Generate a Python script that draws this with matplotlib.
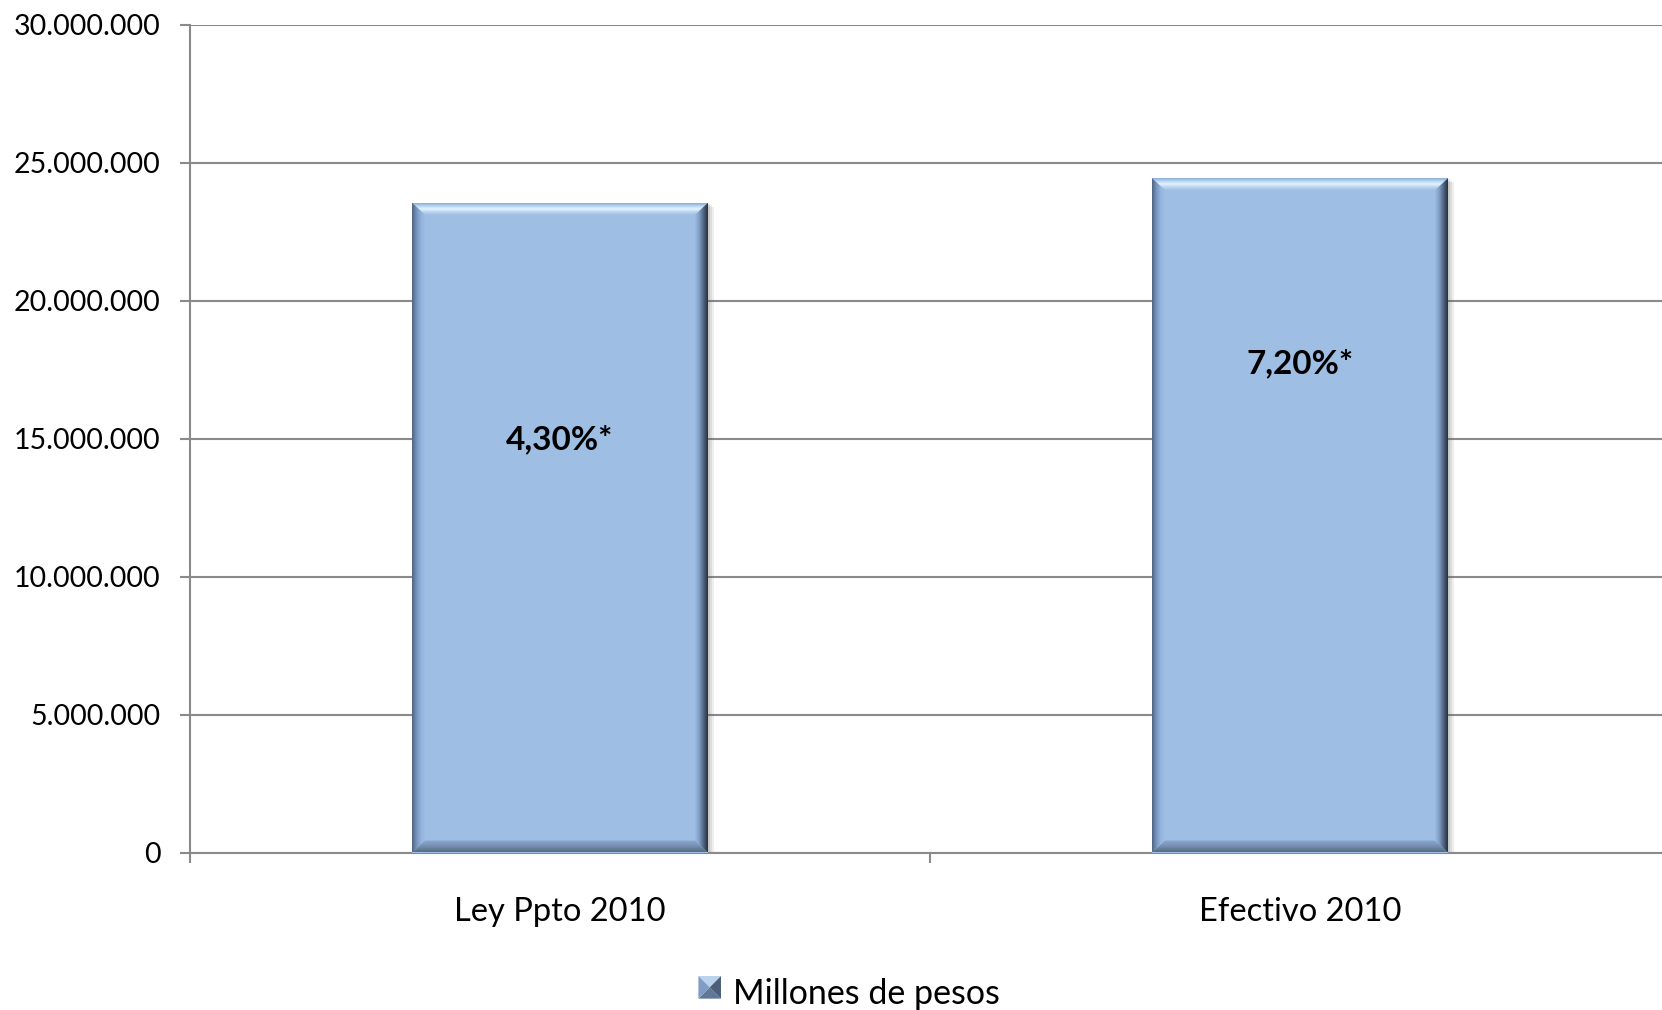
import matplotlib
matplotlib.use("Agg")
import matplotlib.pyplot as plt
import numpy as np
from matplotlib.colors import LinearSegmentedColormap
from matplotlib.patches import Polygon, Rectangle
from matplotlib.legend_handler import HandlerBase
from matplotlib.ticker import FuncFormatter, FixedLocator

categories = ["Ley Ppto 2010", "Efectivo 2010"]
values = [23540000, 24430000]
bar_labels = ["4,30%*", "7,20%*"]
label_heights = [14980000, 17730000]
series_name = "Millones de pesos"
yticks = [0, 5000000, 10000000, 15000000, 20000000, 25000000, 30000000]

FONT = "Lato"
FILL = "#9FBEE4"
GRID = "#8A8A8A"

fig = plt.figure(figsize=(16.62, 10.10), dpi=100)
ax = fig.add_axes([190 / 1662, 157.5 / 1010, 1480 / 1662, 828 / 1010])
x = np.arange(len(categories))
ax.set_xlim(-0.5, len(categories) - 0.5)
ax.set_ylim(0, 30000000)

bars = ax.bar(x, values, width=0.40, color=FILL, edgecolor="none", zorder=3)


def px_to_data(px_x, px_y):
    p0 = ax.transData.inverted().transform((0, 0))
    p1 = ax.transData.inverted().transform((px_x, px_y))
    return p1[0] - p0[0], p1[1] - p0[1]


fig.canvas.draw()
dx, dy = px_to_data(13, 12)
sx, sy = px_to_data(4, 4)


def grad_poly(poly, extent, colors, vertical, z):
    cmap = LinearSegmentedColormap.from_list("g", colors)
    n = 256
    if vertical:
        arr = np.linspace(0, 1, n).reshape(n, 1)
    else:
        arr = np.linspace(0, 1, n).reshape(1, n)
    im = ax.imshow(arr, cmap=cmap, extent=extent, aspect="auto",
                   origin="upper", interpolation="bilinear", zorder=z)
    pg = Polygon(poly, closed=True, transform=ax.transData, facecolor="none", edgecolor="none")
    ax.add_patch(pg)
    im.set_clip_path(pg)


for b in bars:
    x0, y0 = b.get_x(), b.get_y()
    x1, y1 = x0 + b.get_width(), y0 + b.get_height()
    for k, a in [(1.0, 0.10), (0.6, 0.12), (0.3, 0.15)]:
        ax.add_patch(Rectangle((x0 + sx * k * 0.5, y0 - sy * k), (x1 - x0) + sx * k, (y1 - y0),
                               facecolor="#606060", alpha=a, edgecolor="none", zorder=2))
    grad_poly([(x0, y1), (x1, y1), (x1 - dx, y1 - dy), (x0 + dx, y1 - dy)],
              [x0, x1, y1 - dy, y1],
              ["#8AAAD6", "#B8D6F2", "#E2F4FD", "#BBD6F0", FILL], True, 4)
    grad_poly([(x0, y0), (x1, y0), (x1 - dx, y0 + dy), (x0 + dx, y0 + dy)],
              [x0, x1, y0, y0 + dy],
              ["#8CA8CE", "#7690B2", "#56697F"], True, 4)
    grad_poly([(x0, y0), (x0, y1), (x0 + dx, y1 - dy), (x0 + dx, y0 + dy)],
              [x0, x0 + dx, y0, y1],
              ["#4E6380", "#7594BE", "#94B4DE", FILL], False, 4)
    grad_poly([(x1, y0), (x1, y1), (x1 - dx, y1 - dy), (x1 - dx, y0 + dy)],
              [x1 - dx, x1, y0, y1],
              [FILL, "#7F9CC4", "#4F6480", "#27303C"], False, 4)

ax.set_xlim(-0.5, len(categories) - 0.5)
ax.set_ylim(0, 30000000)

for xi, lab, h in zip(x, bar_labels, label_heights):
    ax.text(xi, h, lab, ha="center", va="center", fontsize=24, fontweight="bold",
            family=FONT, color="black", zorder=6)

ax.set_yticks(yticks)
ax.yaxis.set_major_formatter(FuncFormatter(lambda v, p: f"{int(v):,}".replace(",", ".")))
ax.yaxis.grid(True, color=GRID, linewidth=1.5, zorder=0)
ax.set_axisbelow(True)
for s in ["top", "right"]:
    ax.spines[s].set_visible(False)
for s in ["left", "bottom"]:
    ax.spines[s].set_color(GRID)
    ax.spines[s].set_linewidth(1.5)
ax.tick_params(axis="y", length=7, width=1.5, color=GRID, pad=14, labelsize=20.5)
ax.set_xticks(x)
ax.set_xticklabels(categories)
ax.xaxis.set_minor_locator(FixedLocator(np.arange(len(categories) + 1) - 0.5))
ax.tick_params(axis="x", which="major", length=0, pad=32, labelsize=23.5)
ax.tick_params(axis="x", which="minor", length=7, width=1.5, color=GRID)
for t in ax.get_xticklabels() + ax.get_yticklabels():
    t.set_family(FONT)


class BevelHandler(HandlerBase):
    def create_artists(self, legend, orig, xd, yd, width, height, fontsize, trans):
        s = height * 0.8
        cx, cy = xd + width - s / 2, yd + height / 2
        h = s / 2
        tl, tr = (cx - h, cy + h), (cx + h, cy + h)
        bl, br = (cx - h, cy - h), (cx + h, cy - h)
        c = (cx, cy)
        tris = [([tl, tr, c], "#B9D2EE"),
                ([bl, br, c], "#5F7898"),
                ([tl, bl, c], "#7F9CC4"),
                ([tr, br, c], "#4B5F7A")]
        arts = []
        for p, col in tris:
            arts.append(Polygon(p, closed=True, facecolor=col, edgecolor="none", transform=trans))
        return arts


handle = Rectangle((0, 0), 1, 1, facecolor=FILL)
fig.legend([handle], [series_name], loc="center", bbox_to_anchor=(0.510, 0.016),
           frameon=False, handler_map={Rectangle: BevelHandler()},
           handlelength=0.75, handleheight=0.9, handletextpad=0.35,
           prop={"family": FONT, "size": 24.5})

fig.savefig("out.png", dpi=100)
